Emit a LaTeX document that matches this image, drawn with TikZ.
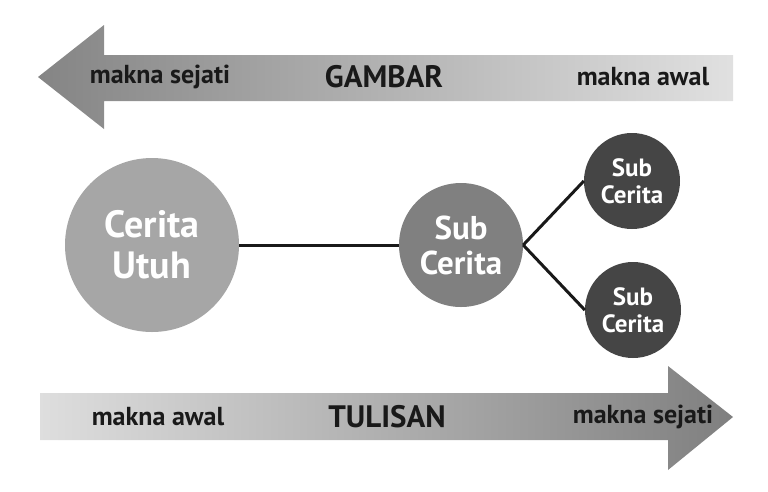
\documentclass[tikz,border=0pt]{standalone}
\usepackage{fontspec}
\setmainfont{PT Sans}
\usetikzlibrary{positioning}
\definecolor{bigfill}{HTML}{A6A6A6}
\definecolor{midfill}{HTML}{808080}
\definecolor{smallfill}{HTML}{454545}
\tikzset{
  bubble/.style={circle, fill=#1, text=white, align=center, inner sep=0pt},
  bandtext/.style={font=\bfseries\fontsize{26}{28}\selectfont, text=black!90},
  bandtitle/.style={font=\bfseries\fontsize{31}{34}\selectfont, text=black!90},
  link/.style={line width=3pt, black!90}
}
\begin{document}
\begin{tikzpicture}[x=1pt, y=-1pt]
  \useasboundingbox (0,0) rectangle (768,491);
  % arrow GAMBAR, pointing left
  \shade[left color=black!48, right color=black!12]
    (38,77) -- (104,25) -- (104,55) -- (733,55) -- (733,101) -- (104,101) -- (104,129) -- cycle;
  \node[bandtext] (gl) at (160,77) {makna sejati};
  \node[bandtitle] (gt) at (384,77) {GAMBAR};
  \node[bandtext] (gr) at (643,77) {makna awal};
  % arrow TULISAN, pointing right
  \shade[left color=black!13, right color=black!50]
    (40,393) -- (668,393) -- (668,366) -- (733,417) -- (668,470) -- (668,440) -- (40,440) -- cycle;
  \node[bandtext] (tl) at (158,417) {makna awal};
  \node[bandtitle] (tt) at (387,417) {TULISAN};
  \node[bandtext] (tr) at (643,417) {makna sejati};
  % circles
  \node[bubble=bigfill, minimum size=174pt, font=\bfseries\fontsize{38}{41}\selectfont] (whole) at (152,245) {Cerita\\Utuh};
  \node[bubble=midfill, minimum size=124pt, font=\bfseries\fontsize{33}{35}\selectfont] (sub) at (461,245) {Sub\\Cerita};
  \node[bubble=smallfill, minimum size=96pt, font=\bfseries\fontsize{25}{27}\selectfont] (subA) at (632,181) {Sub\\Cerita};
  \node[bubble=smallfill, minimum size=96pt, font=\bfseries\fontsize{25}{27}\selectfont] (subB) at (633,310) {Sub\\Cerita};
  \draw[link] (whole) -- (sub);
  \draw[link] (sub.east) -- (subA.west);
  \draw[link] (sub.east) -- (subB.west);
\end{tikzpicture}
\end{document}
